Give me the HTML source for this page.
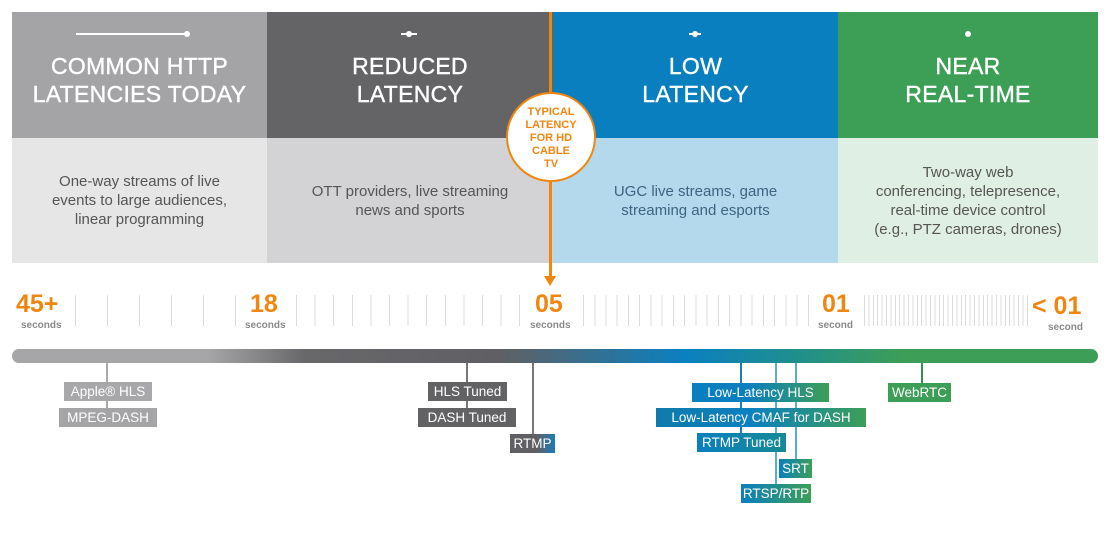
<!DOCTYPE html>
<html><head><meta charset="utf-8"><style>
*{margin:0;padding:0;box-sizing:border-box}
body{width:1110px;height:540px;background:#fff;position:relative;overflow:hidden;font-family:"Liberation Sans",sans-serif}
.a{position:absolute}
.h{top:12px;height:126px;color:#fff;text-align:center;font-size:23px;line-height:28px;letter-spacing:.3px;-webkit-text-stroke:0.4px #fff}
.h .t{position:absolute;left:0;right:0;top:40px}
.d{top:138px;height:125px;display:flex;align-items:center;justify-content:center;text-align:center;font-size:15px;line-height:19px;color:#555}
.num{color:#f0860f;font-weight:bold;font-size:25px;top:290px}
.sec{color:#8a8a8a;font-size:10px;font-weight:bold}
.tk{top:295px;height:31px}
.lb{position:absolute;height:19px;color:#fff;font-size:13.5px;line-height:19px;text-align:center;white-space:nowrap}
.ln{position:absolute;width:1.5px}
</style></head><body>
<div class="a h" style="left:12px;width:255px;background:#a4a4a7"><div class="a" style="left:64px;top:21px;width:112px;height:2px;background:#fff"></div><div class="a" style="left:172px;top:19px;width:6px;height:6px;border-radius:50%;background:#fff"></div><div class="t">COMMON HTTP<br>LATENCIES TODAY</div></div>
<div class="a h" style="left:267px;width:286px;background:#646467"><div class="a" style="left:134px;top:21px;width:16px;height:2px;background:#fff"></div><div class="a" style="left:139px;top:19px;width:6px;height:6px;border-radius:50%;background:#fff"></div><div class="t">REDUCED<br>LATENCY</div></div>
<div class="a h" style="left:553px;width:285px;background:#0a7fbf"><div class="a" style="left:136px;top:21px;width:12px;height:2px;background:#fff"></div><div class="a" style="left:139px;top:19px;width:6px;height:6px;border-radius:50%;background:#fff"></div><div class="t">LOW<br>LATENCY</div></div>
<div class="a h" style="left:838px;width:260px;background:#3d9f56"><div class="a" style="left:127px;top:19px;width:6px;height:6px;border-radius:50%;background:#fff"></div><div class="t">NEAR<br>REAL-TIME</div></div>
<div class="a d" style="left:12px;width:255px;background:#e6e6e7">One-way streams of live<br>events to large audiences,<br>linear programming</div>
<div class="a d" style="left:267px;width:286px;background:#d3d3d5">OTT providers, live streaming<br>news and sports</div>
<div class="a d" style="left:553px;width:285px;background:#b4d9ec;color:#3d6480">UGC live streams, game<br>streaming and esports</div>
<div class="a d" style="left:838px;width:260px;background:#e0efe3">Two-way web<br>conferencing, telepresence,<br>real-time device control<br>(e.g., PTZ cameras, drones)</div>
<div class="a" style="left:549px;top:12px;width:3px;height:265px;background:#f0860f"></div>
<div class="a" style="left:544px;top:276px;width:0;height:0;border-left:6.5px solid transparent;border-right:6.5px solid transparent;border-top:10px solid #f0860f"></div>
<div class="a" style="left:506px;top:92px;width:90px;height:90px;border-radius:50%;background:#fff;border:2.5px solid #f0860f;color:#f0860f;font-weight:bold;font-size:11px;line-height:13px;text-align:center;padding-top:12px">TYPICAL<br>LATENCY<br>FOR HD<br>CABLE<br>TV</div>
<div class="a num" style="left:16px">45+</div><div class="a sec" style="left:21px;top:320px">seconds</div>
<div class="a num" style="left:250px">18</div><div class="a sec" style="left:245px;top:320px">seconds</div>
<div class="a num" style="left:535px">05</div><div class="a sec" style="left:530px;top:320px">seconds</div>
<div class="a num" style="left:822px">01</div><div class="a sec" style="left:818px;top:320px">second</div>
<div class="a num" style="left:1032px;top:292px">&lt;&nbsp;01</div><div class="a sec" style="left:1048px;top:322px">second</div>
<div class="a tk" style="left:75px;width:164px;background:repeating-linear-gradient(to right,#dcdcdc 0 1px,transparent 1px 32px)"></div>
<div class="a tk" style="left:296px;width:226px;background:repeating-linear-gradient(to right,#dcdcdc 0 1px,transparent 1px 18.6px)"></div>
<div class="a tk" style="left:583px;width:228px;background:repeating-linear-gradient(to right,#dcdcdc 0 1px,transparent 1px 11.25px)"></div>
<div class="a tk" style="left:864px;width:165px;background:repeating-linear-gradient(to right,#dcdcdc 0 1px,transparent 1px 4.4px)"></div>
<div class="a" style="left:12px;top:349px;width:1086px;height:14px;border-radius:7px;background:linear-gradient(to right,#a6a6a8 0%,#a6a6a8 18%,#68686b 27%,#606064 45%,#0a80c0 62%,#1f8f8e 72%,#3d9e58 82%,#3d9e58 100%)"></div>
<div class="ln" style="left:106px;top:363px;height:45px;background:#aaa"></div>
<div class="ln" style="left:466px;top:363px;height:45px;background:#777"></div>
<div class="ln" style="left:532px;top:363px;height:72px;background:#777"></div>
<div class="ln" style="left:740px;top:363px;height:72px;background:#1b7fad"></div>
<div class="ln" style="left:775px;top:363px;height:122px;background:#5aaecf"></div>
<div class="ln" style="left:795px;top:363px;height:97px;background:#5aaecf"></div>
<div class="ln" style="left:921px;top:363px;height:20px;background:#3a8a55"></div>
<div class="lb" style="left:64px;top:382px;width:88px;background:#a8a8aa">Apple® HLS</div>
<div class="lb" style="left:59px;top:408px;width:98px;background:#a4a4a6">MPEG-DASH</div>
<div class="lb" style="left:428px;top:382px;width:79px;background:#626265">HLS Tuned</div>
<div class="lb" style="left:418px;top:408px;width:98px;background:#626265">DASH Tuned</div>
<div class="lb" style="left:510px;top:434px;width:45px;background:linear-gradient(to right,#606064 60%,#1b7cba)">RTMP</div>
<div class="lb" style="left:692px;top:383px;width:137px;background:linear-gradient(to right,#0a7fbf 40%,#3d9e58)">Low-Latency HLS</div>
<div class="lb" style="left:656px;top:408px;width:210px;background:linear-gradient(to right,#107bab,#0a80c0 45%,#3d9e58)">Low-Latency CMAF for DASH</div>
<div class="lb" style="left:697px;top:433px;width:89px;background:linear-gradient(to right,#0a7fbf,#178a94)">RTMP Tuned</div>
<div class="lb" style="left:779px;top:459px;width:33px;background:linear-gradient(to right,#0a7fbf,#3d9e58)">SRT</div>
<div class="lb" style="left:741px;top:484px;width:70px;background:linear-gradient(to right,#0a7fbf,#3d9e58)">RTSP/RTP</div>
<div class="lb" style="left:888px;top:383px;width:63px;background:#3d9e58">WebRTC</div>
</body></html>
